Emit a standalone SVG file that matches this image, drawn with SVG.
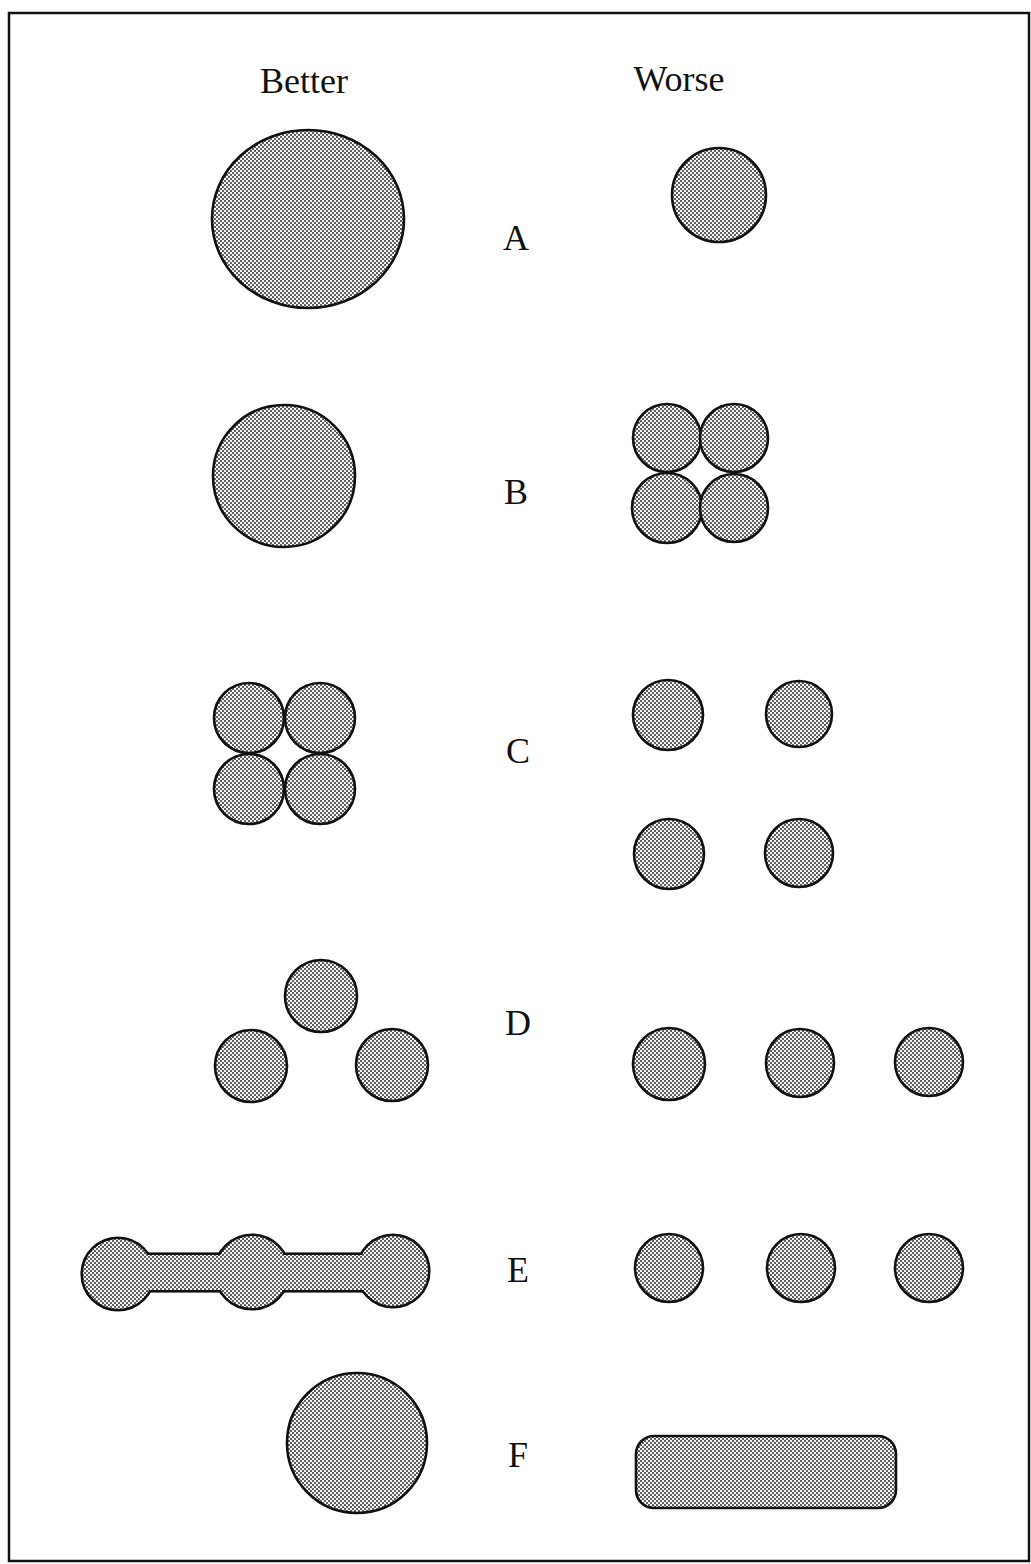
<svg xmlns="http://www.w3.org/2000/svg" width="1031" height="1564" viewBox="0 0 1031 1564">
<style>
.s{fill:url(#dots);stroke:#111;stroke-width:2.6}
.o{fill:none;stroke:#111;stroke-width:5.2}
.f{fill:url(#dots);stroke:none}
.t{font-family:"Liberation Serif","Times New Roman",serif;font-size:36px;fill:#111;text-anchor:middle}
</style>
<defs>
<pattern id="dots" width="4" height="4" patternUnits="userSpaceOnUse">
<rect width="4" height="4" fill="#f4f4f4"/>
<circle cx="1" cy="1" r="0.95" fill="#222"/>
<circle cx="3" cy="3" r="0.95" fill="#222"/>
</pattern>
</defs>
<rect width="1031" height="1564" fill="#fff"/>
<rect id="frame" x="9" y="13" width="1020" height="1548" fill="none" stroke="#111" stroke-width="2.5"/>
<g id="headers">
<text class="t" x="304" y="93">Better</text>
<text class="t" x="679" y="91">Worse</text>
</g>
<g id="labels">
<text class="t" x="516" y="250">A</text>
<text class="t" x="516" y="504">B</text>
<text class="t" x="518" y="763">C</text>
<text class="t" x="518" y="1035">D</text>
<text class="t" x="518" y="1282">E</text>
<text class="t" x="518" y="1467">F</text>
</g>
<g id="A-better"><ellipse class="s" cx="308" cy="219" rx="96" ry="89"/></g>
<g id="A-worse"><circle class="s" cx="719" cy="195" r="47"/></g>
<g id="B-better"><circle class="s" cx="284" cy="476" r="71"/></g>
<g id="B-worse">
<circle class="s" cx="667" cy="438" r="34"/>
<circle class="s" cx="734" cy="438" r="34"/>
<circle class="s" cx="667" cy="508" r="35"/>
<circle class="s" cx="734" cy="508" r="34"/>
</g>
<g id="C-better">
<circle class="s" cx="249" cy="718" r="35"/>
<circle class="s" cx="320" cy="718" r="35"/>
<circle class="s" cx="249" cy="789" r="35"/>
<circle class="s" cx="320" cy="789" r="35"/>
</g>
<g id="C-worse">
<circle class="s" cx="668" cy="715" r="35"/>
<circle class="s" cx="799" cy="714" r="33"/>
<circle class="s" cx="669" cy="854" r="35"/>
<circle class="s" cx="799" cy="853" r="34"/>
</g>
<g id="D-better">
<circle class="s" cx="321" cy="996" r="36"/>
<circle class="s" cx="251" cy="1066" r="36"/>
<circle class="s" cx="392" cy="1065" r="36"/>
</g>
<g id="D-worse">
<circle class="s" cx="669" cy="1064" r="36"/>
<circle class="s" cx="800" cy="1063" r="34"/>
<circle class="s" cx="929" cy="1062" r="34"/>
</g>
<g id="E-better">
<rect class="o" x="118" y="1255" width="275" height="35"/>
<circle class="o" cx="118" cy="1274" r="35"/>
<circle class="o" cx="252" cy="1272" r="36"/>
<circle class="o" cx="393" cy="1271" r="35"/>
<rect class="f" x="118" y="1255" width="275" height="35"/>
<circle class="f" cx="118" cy="1274" r="35"/>
<circle class="f" cx="252" cy="1272" r="36"/>
<circle class="f" cx="393" cy="1271" r="35"/>
</g>
<g id="E-worse">
<circle class="s" cx="669" cy="1268" r="34"/>
<circle class="s" cx="801" cy="1268" r="34"/>
<circle class="s" cx="929" cy="1268" r="34"/>
</g>
<g id="F-better"><circle class="s" cx="357" cy="1443" r="70"/></g>
<g id="F-worse"><rect class="s" x="636" y="1436" width="260" height="72" rx="18"/></g>
<g id="connectors"/>
</svg>
